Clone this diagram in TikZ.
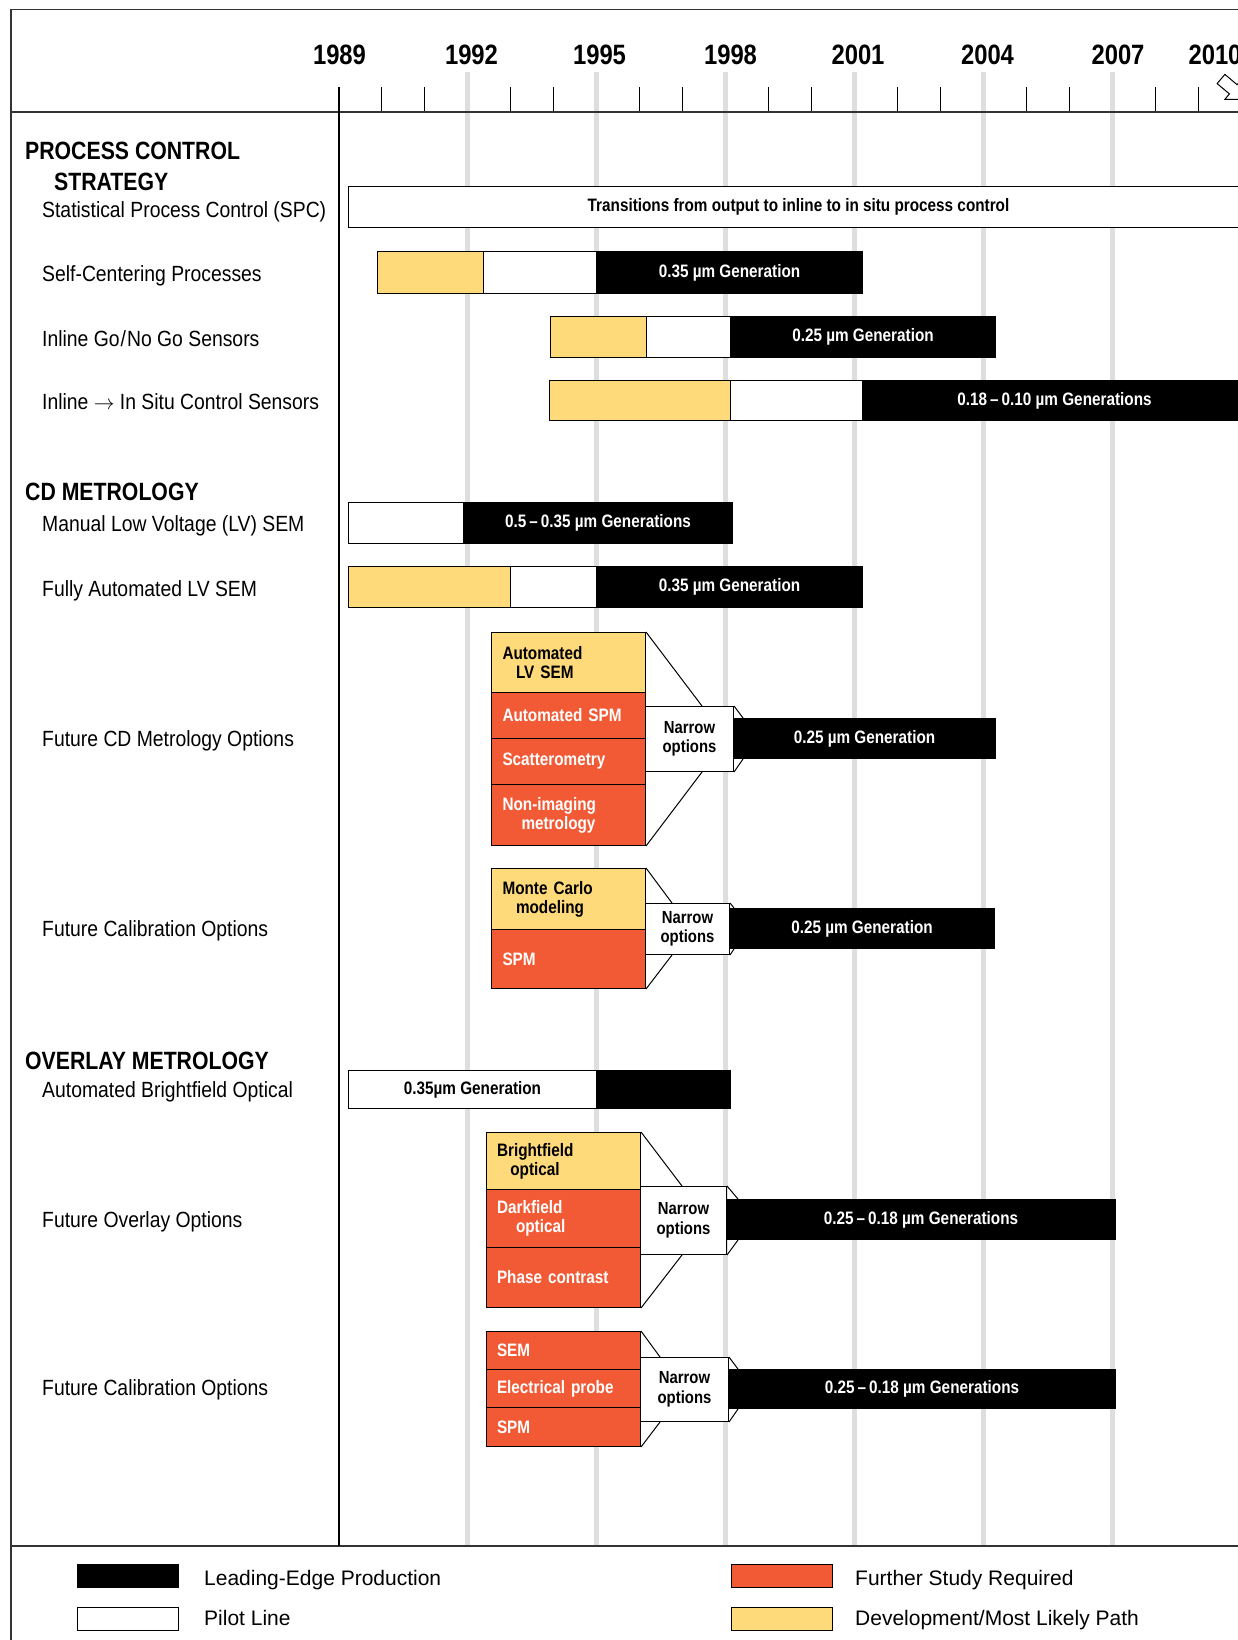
\documentclass[tikz,border=0pt]{standalone}
\usepackage{fontspec}
\setmainfont{Liberation Sans}
\newfontfamily\condfont{Liberation Sans}[FakeStretch=0.85]
\newfontfamily\labfont{Liberation Sans}[FakeStretch=0.88]
\usetikzlibrary{calc}
\definecolor{devyellow}{HTML}{FFDA7A}
\definecolor{studyred}{HTML}{F15A35}
\definecolor{gridgray}{HTML}{DEDEDE}
\begin{document}
\begin{tikzpicture}[x=1pt,y=-1pt,
  frame/.style={line width=1.6pt,black!80},
  gridline/.style={line width=5pt,gridgray},
  year/.style={anchor=base,inner sep=0,font=\condfont\bfseries\fontsize{28}{30}\selectfont},
  heading/.style={anchor=base west,inner sep=0,font=\condfont\bfseries\fontsize{25}{28}\selectfont},
  rowlab/.style={anchor=base west,inner sep=0,font=\labfont\fontsize{22}{26}\selectfont},
  seg/.style={draw,line width=1pt,inner sep=0,anchor=north west,font=\condfont\bfseries\fontsize{18}{19}\selectfont},
  lead/.style={seg,fill=black,text=white},
  pilot/.style={seg,fill=white},
  devel/.style={seg,fill=devyellow},
  cell/.style={draw,line width=1pt,inner xsep=11pt,inner ysep=0,text width=132pt,align=left,anchor=north west,font=\condfont\bfseries\fontsize{18}{19}\selectfont},
  devcell/.style={cell,fill=devyellow},
  studycell/.style={cell,fill=studyred,text=white},
  narrow/.style={draw,line width=1pt,fill=white,inner sep=0,align=center,anchor=north west,font=\condfont\bfseries\fontsize{17.5}{19.5}\selectfont},
  key/.style={draw,line width=1pt,minimum width=101,minimum height=23,inner sep=0,anchor=north west},
  keytext/.style={anchor=base west,inner sep=0,font=\fontsize{21}{24}\selectfont}]
\useasboundingbox (0,0) rectangle (1238,1640);
\clip (0,0) rectangle (1238,1640);

% Grid lines and time axis
\foreach \yr in {3,6,...,18}
  \draw[gridline] (338.5+43*\yr,72) -- (338.5+43*\yr,1546);
\foreach \yr in {1,2,4,5,7,8,10,11,13,14,16,17,19,20}
  \draw[line width=1.1pt] (338.5+43*\yr,87) -- (338.5+43*\yr,112);
\draw[frame] (11,1640) -- (11,9.5) -- (1238,9.5);
\draw[frame] (11,112) -- (1238,112);
\draw[frame] (11,1546) -- (1238,1546);
\draw[line width=1.3pt] (339,87) -- (339,1546);
\foreach \yr/\xx in {1989/339.5,1992/471.5,1995/599.5,1998/730.5,2001/858,2004/987.5,2007/1118,2010/1215}
  \node[year] (y\yr) at (\xx,65) {\yr};
\draw[line width=1pt,fill=white] (1217.1,83.6) -- (1229.4,93.9) -- (1224.9,99.3) -- (1245.6,99.6)
  -- (1241.7,79.3) -- (1237.1,84.7) -- (1224.9,74.4) -- cycle;

% Process control strategy
\node[heading] (hPcs) at (25,160) {PROCESS CONTROL};
\node[heading] (hPcs2) at (54,190) {STRATEGY};
\node[rowlab] (lSpc) at (42,218) {Statistical Process Control (SPC)};
\node[rowlab] (lSc) at (42,281) {Self-Centering Processes};
\node[rowlab] (lGo) at (42,346) {Inline Go\kern1pt/\kern1pt No Go Sensors};
\node[rowlab] (lIs) at (42,409.5) {Inline $\rightarrow$ In Situ Control Sensors};

\node[pilot,minimum width=900,minimum height=41] (spc) at (348,186) {Transitions from output to inline to in situ process control};

\node[devel,minimum width=106,minimum height=42] (scD) at (377,251) {};
\node[pilot,minimum width=113,minimum height=42] (scP) at (483,251) {};
\node[lead,minimum width=266,minimum height=42] (scL) at (596,251) {0.35 µm Generation};

\node[devel,minimum width=96,minimum height=41] (goD) at (550,316) {};
\node[pilot,minimum width=84,minimum height=41] (goP) at (646,316) {};
\node[lead,minimum width=265,minimum height=41] (goL) at (730,316) {0.25 µm Generation};

\node[devel,minimum width=181,minimum height=40] (isD) at (549,380) {};
\node[pilot,minimum width=132,minimum height=40] (isP) at (730,380) {};
\node[lead,minimum width=384,minimum height=40] (isL) at (862,380) {0.18\,–\,0.10 µm Generations};

% CD metrology
\node[heading] (hCd) at (25,500) {CD METROLOGY};
\node[rowlab] (lMl) at (42,531) {Manual Low Voltage (LV) SEM};
\node[rowlab] (lFa) at (42,596) {Fully Automated LV SEM};
\node[rowlab] (lCdo) at (42,746) {Future CD Metrology Options};
\node[rowlab] (lCdc) at (42,936) {Future Calibration Options};

\node[pilot,minimum width=115,minimum height=41] (mlP) at (348,502) {};
\node[lead,minimum width=269,minimum height=41] (mlL) at (463,502) {0.5\,–\,0.35 µm Generations};

\node[devel,minimum width=162,minimum height=41] (faD) at (348,566) {};
\node[pilot,minimum width=86,minimum height=41] (faP) at (510,566) {};
\node[lead,minimum width=266,minimum height=41] (faL) at (596,566) {0.35 µm Generation};

% CD metrology options
\node[devcell,minimum height=60] (cdA) at (491,632) {Automated\\\hspace*{13.5pt}LV SEM};
\node[studycell,minimum height=46] (cdB) at (491,692) {Automated SPM};
\node[studycell,minimum height=46] (cdC) at (491,738) {Scatterometry};
\node[studycell,minimum height=61] (cdD) at (491,784) {Non-imaging\\\hspace*{19pt}metrology};
\node[narrow,minimum width=88,minimum height=65] (cdN) at (645,706) {Narrow\\options};
\node[lead,minimum width=262,minimum height=40] (cdL) at (733,718) {0.25 µm Generation};
\draw[line width=1pt] (cdA.north east) -- ($(cdN.north west)+(57,0)$);
\draw[line width=1pt] (cdD.south east) -- ($(cdN.south west)+(57,0)$);
\draw[line width=1pt] (cdN.north east) -- ($(cdL.north west)+(10,0)$);
\draw[line width=1pt] (cdN.south east) -- ($(cdL.south west)+(10,0)$);

% CD calibration options
\node[devcell,minimum height=61] (clA) at (491,868) {Monte Carlo\\\hspace*{13.5pt}modeling};
\node[studycell,minimum height=59] (clB) at (491,929) {SPM};
\node[narrow,minimum width=84,minimum height=51] (clN) at (645,903) {Narrow\\options};
\node[lead,minimum width=265,minimum height=40] (clL) at (729,908) {0.25 µm Generation};
\draw[line width=1pt] (clA.north east) -- ($(clN.north west)+(27,0)$);
\draw[line width=1pt] (clB.south east) -- ($(clN.south west)+(27,0)$);
\draw[line width=1pt] (clN.north east) -- ($(clL.north west)+(5,0)$);
\draw[line width=1pt] (clN.south east) -- ($(clL.south west)+(5,0)$);

% Overlay metrology
\node[heading] (hOv) at (25,1069) {OVERLAY METROLOGY};
\node[rowlab] (lAb) at (42,1097.5) {Automated Brightfield Optical};
\node[rowlab] (lOvo) at (42,1227) {Future Overlay Options};
\node[rowlab] (lOvc) at (42,1395.5) {Future Calibration Options};

\node[pilot,minimum width=248,minimum height=38] (abP) at (348,1070) {0.35µm Generation};
\node[lead,minimum width=134,minimum height=38] (abL) at (596,1070) {};

% Overlay options
\node[devcell,minimum height=57,text width=133pt,inner xsep=10.5pt] (ovA) at (486,1132) {Brightfield\\\hspace*{13.3pt}optical};
\node[studycell,minimum height=58,text width=133pt,inner xsep=10.5pt] (ovB) at (486,1189) {Darkfield\\\hspace*{19pt}optical};
\node[studycell,minimum height=60,text width=133pt,inner xsep=10.5pt] (ovC) at (486,1247) {Phase contrast};
\node[narrow,minimum width=86,minimum height=68] (ovN) at (640,1186) {Narrow\\options};
\node[lead,minimum width=389,minimum height=40] (ovL) at (726,1199) {0.25\,–\,0.18 µm Generations};
\draw[line width=1pt] (ovA.north east) -- ($(ovN.north west)+(42,0)$);
\draw[line width=1pt] (ovC.south east) -- ($(ovN.south west)+(42,0)$);
\draw[line width=1pt] (ovN.north east) -- ($(ovL.north west)+(12,0)$);
\draw[line width=1pt] (ovN.south east) -- ($(ovL.south west)+(12,0)$);

% Overlay calibration options
\node[studycell,minimum height=38,text width=133pt,inner xsep=10.5pt] (caA) at (486,1331) {SEM};
\node[studycell,minimum height=38,text width=133pt,inner xsep=10.5pt] (caB) at (486,1369) {Electrical probe};
\node[studycell,minimum height=39,text width=133pt,inner xsep=10.5pt] (caC) at (486,1407) {SPM};
\node[narrow,minimum width=88,minimum height=64] (caN) at (640,1357) {Narrow\\options};
\node[lead,minimum width=387,minimum height=39] (caL) at (728,1369) {0.25\,–\,0.18 µm Generations};
\draw[line width=1pt] (caA.north east) -- ($(caN.north west)+(20,0)$);
\draw[line width=1pt] (caC.south east) -- ($(caN.south west)+(20,0)$);
\draw[line width=1pt] (caN.north east) -- ($(caL.north west)+(10,0)$);
\draw[line width=1pt] (caN.south east) -- ($(caL.south west)+(10,0)$);

% Legend
\node[key,fill=black] (kLead) at (77,1564) {};
\node[key,fill=white] (kPilot) at (77,1607) {};
\node[key,fill=studyred] (kStudy) at (731,1564) {};
\node[key,fill=devyellow] (kDevel) at (731,1607) {};
\node[keytext] (tLead) at (204,1585) {Leading-Edge Production};
\node[keytext] (tPilot) at (204,1625) {Pilot Line};
\node[keytext] (tStudy) at (855,1585) {Further Study Required};
\node[keytext] (tDevel) at (855,1625) {Development/Most Likely Path};

\end{tikzpicture}
\end{document}
